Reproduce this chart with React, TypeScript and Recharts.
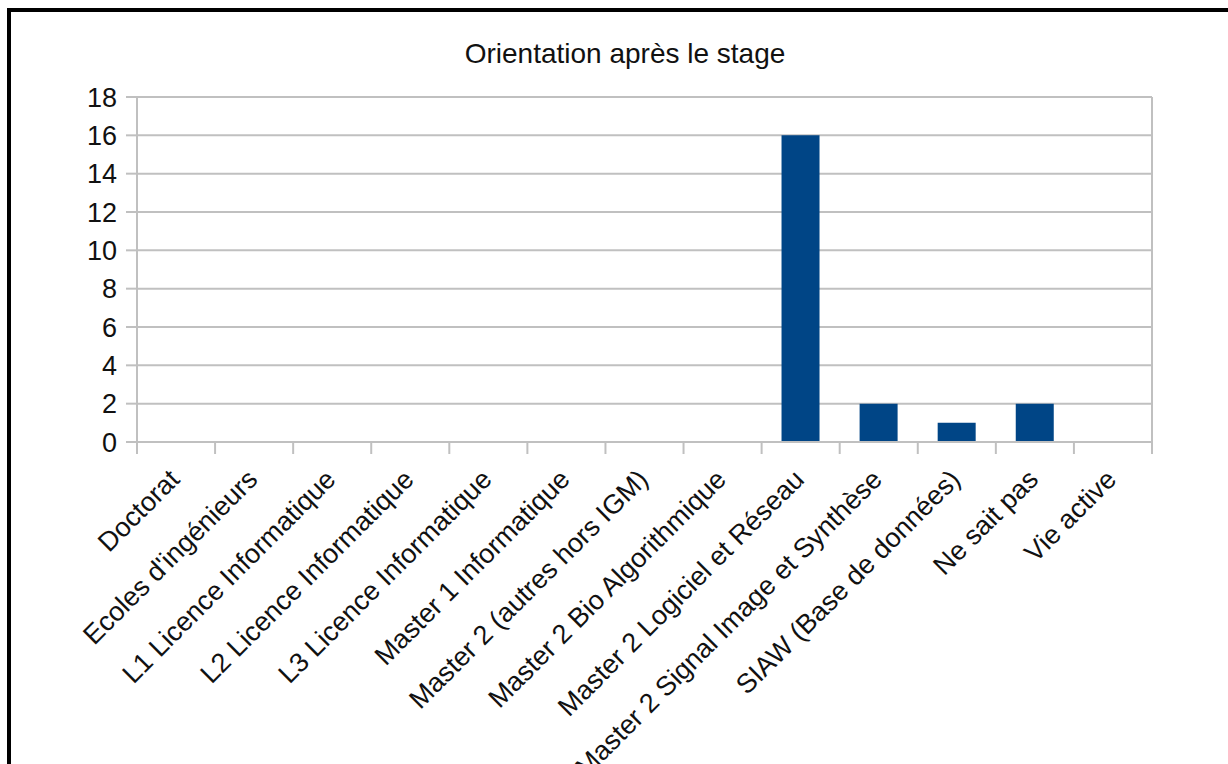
import React from "react";
import { BarChart, Bar, XAxis, YAxis, CartesianGrid } from "recharts";

const title = "Orientation après le stage";
const categories = [
  "Doctorat",
  "Ecoles d'ingénieurs",
  "L1 Licence Informatique",
  "L2 Licence Informatique",
  "L3 Licence Informatique",
  "Master 1 Informatique",
  "Master 2 (autres hors IGM)",
  "Master 2 Bio Algorithmique",
  "Master 2 Logiciel et Réseau",
  "Master 2 Signal Image et Synthèse",
  "SIAW (Base de données)",
  "Ne sait pas",
  "Vie active",
];
const values = [0, 0, 0, 0, 0, 0, 0, 0, 16, 2, 1, 2, 0];
const yTicks = [0, 2, 4, 6, 8, 10, 12, 14, 16, 18];

const data = categories.map((name, i) => ({ name, value: values[i] }));

const FONT = "'Liberation Sans', Arial, sans-serif";
const GRID = "#c0c0c0";
const TEXT = "#111";

const XTick = (props: any) => {
  const { x, y, payload, index, visibleTicksCount, width } = props;
  let half = payload && payload.offset ? payload.offset : 0;
  if (!half && width && visibleTicksCount) half = width / visibleTicksCount / 2;
  const count = visibleTicksCount || categories.length;
  const ax = x + 5;
  const ay = y + 39;
  return (
    <g>
      <line x1={x - half} y1={y} x2={x - half} y2={y + 12} stroke={GRID} strokeWidth={2} />
      {index === count - 1 ? (
        <line x1={x + half} y1={y} x2={x + half} y2={y + 12} stroke={GRID} strokeWidth={2} />
      ) : null}
      <text
        x={ax}
        y={ay}
        transform={`rotate(-45, ${ax}, ${ay})`}
        textAnchor="end"
        fontFamily={FONT}
        fontSize={27}
        fill={TEXT}
      >
        {payload.value}
      </text>
    </g>
  );
};

export default function App() {
  return (
    <div>
      <div
        style={{
          position: "absolute",
          left: 7,
          top: 8,
          width: 1221,
          height: 756,
          boxSizing: "border-box",
          borderTop: "4px solid #000",
          borderLeft: "4px solid #000",
          background: "#fff",
          overflow: "hidden",
        }}
      >
        <BarChart
          width={1217}
          height={752}
          data={data}
          margin={{ top: 85, right: 75, left: 0, bottom: 0 }}
          barCategoryGap="25.5%"
        >
          <CartesianGrid horizontal vertical={false} stroke={GRID} strokeWidth={2} />
          <XAxis
            dataKey="name"
            interval={0}
            tick={<XTick />}
            tickLine={false}
            tickSize={0}
            tickMargin={0}
            axisLine={{ stroke: GRID, strokeWidth: 2 }}
            height={322}
          />
          <YAxis
            domain={[0, 18]}
            ticks={yTicks}
            interval={0}
            width={126}
            tickSize={11}
            tickMargin={9}
            axisLine={{ stroke: GRID, strokeWidth: 2 }}
            tickLine={{ stroke: GRID, strokeWidth: 2 }}
            tick={{ fontFamily: FONT, fontSize: 27, fill: TEXT }}
          />
          <YAxis
            yAxisId="right"
            orientation="right"
            domain={[0, 18]}
            width={1}
            tick={false}
            tickLine={false}
            axisLine={{ stroke: GRID, strokeWidth: 2 }}
          />
          <Bar dataKey="value" fill="#004586" isAnimationActive={false} />
        </BarChart>
      </div>
      <svg
        width={1228}
        height={80}
        style={{ position: "absolute", left: 0, top: 0, pointerEvents: "none" }}
      >
        <text x={625} y={63} textAnchor="middle" fontFamily={FONT} fontSize={28} fill={TEXT}>
          {title}
        </text>
      </svg>
    </div>
  );
}
